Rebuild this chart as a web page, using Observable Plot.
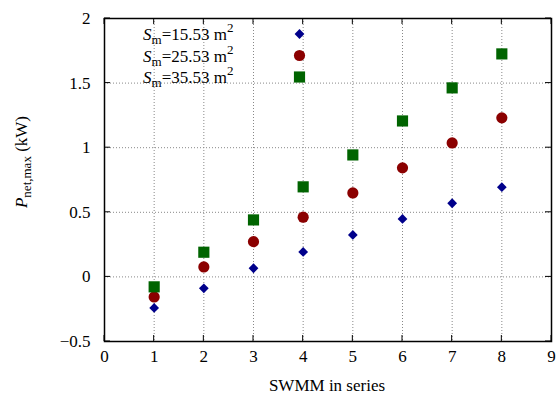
<!DOCTYPE html>
<html><head><meta charset="utf-8">
<script src="https://cdn.jsdelivr.net/npm/d3@7"></script>
<script src="https://cdn.jsdelivr.net/npm/@observablehq/plot@0.6"></script>
<style>body{margin:0;background:#fff;} svg{display:block;}</style>
</head><body><div id="chart"></div>
<script>
const swmm = [1, 2, 3, 4, 5, 6, 7, 8];
const seriesNames = ["15.53", "25.53", "35.53"];
const s1 = [-0.24, -0.088, 0.067, 0.193, 0.325, 0.449, 0.570, 0.694];
const s2 = [-0.155, 0.077, 0.273, 0.462, 0.650, 0.844, 1.037, 1.231];
const s3 = [-0.077, 0.191, 0.441, 0.697, 0.944, 1.207, 1.463, 1.726];
const xTicks = [0, 1, 2, 3, 4, 5, 6, 7, 8, 9];
const yTicks = [-0.5, 0, 0.5, 1, 1.5, 2];
const colors = ["#00008b", "#8b0000", "#006400"];
const symbols = ["diamond2", "circle", "square"];
const sizes = [4.4, 5.6, 6.3];

const rows = [];
[s1, s2, s3].forEach((s, k) => s.forEach((v, i) => rows.push({x: swmm[i], y: v, k})));

const font = "Liberation Serif";
const chart = Plot.plot({
  width: 558, height: 408,
  marginLeft: 104, marginRight: 7, marginTop: 18, marginBottom: 67,
  style: "font-family: 'Liberation Serif', serif; font-size: 17px; background: #fff; color: #000;",
  x: {domain: [0, 9], ticks: xTicks},
  y: {domain: [-0.5, 2], ticks: yTicks},
  marks: [
    Plot.gridX(xTicks, {stroke: "#888", strokeOpacity: 1, strokeDasharray: "1,2", strokeWidth: 1}),
    Plot.gridY(yTicks, {stroke: "#888", strokeOpacity: 1, strokeDasharray: "1,2", strokeWidth: 1}),
    Plot.axisX({ticks: xTicks, tickSize: 0, tickPadding: 8, label: null, fontSize: 17, fontFamily: font, tickFormat: d3.format("d")}),
    Plot.axisY({ticks: yTicks, tickSize: 0, tickPadding: 14, label: null, fontSize: 17, fontFamily: font, tickFormat: d => d3.format("")(d).replace("-", "\u2212")}),
    ...[0, 1, 2].map(k => Plot.dot(rows.filter(d => d.k === k), {
      x: "x", y: "y", symbol: () => symbols[k], r: sizes[k], fill: colors[k], stroke: "none"
    })),
    ...[0, 1, 2].map(k => Plot.dot([seriesNames[k]], {
      frameAnchor: "top-left", dx: 195, dy: 15.5 + 21.5 * k,
      symbol: () => symbols[k], r: sizes[k], fill: colors[k], stroke: "none"
    })),
    Plot.frame({stroke: "#000", strokeWidth: 1.5})
  ]
});
document.getElementById("chart").append(chart);

const svg = d3.select(chart);
const xs = chart.scale("x"), ys = chart.scale("y");
const X = v => xs.apply(v), Y = v => ys.apply(v);
const g = svg.append("g").attr("stroke", "#000").attr("stroke-width", 1);
xTicks.forEach(t => {
  g.append("line").attr("x1", X(t)).attr("x2", X(t)).attr("y1", Y(-0.5)).attr("y2", Y(-0.5) - 6);
  g.append("line").attr("x1", X(t)).attr("x2", X(t)).attr("y1", Y(2)).attr("y2", Y(2) + 6);
});
yTicks.forEach(t => {
  g.append("line").attr("y1", Y(t)).attr("y2", Y(t)).attr("x1", X(0)).attr("x2", X(0) + 6);
  g.append("line").attr("y1", Y(t)).attr("y2", Y(t)).attr("x1", X(9)).attr("x2", X(9) - 6);
});

// x label
svg.append("text").attr("x", 327).attr("y", 391).attr("text-anchor", "middle")
  .attr("font-family", font).attr("font-size", 17).text("SWMM in series");

// y label
const yl = svg.append("text").attr("transform", "translate(27,162) rotate(-90)")
  .attr("text-anchor", "middle").attr("font-family", font).attr("font-size", 17);
yl.append("tspan").attr("font-style", "italic").text("P");
yl.append("tspan").attr("font-size", 13).attr("dy", 4).text("net,max");
yl.append("tspan").attr("dy", -4).text(" (kW)");

// legend text
seriesNames.forEach((n, i) => {
  const cy = 34 + i * 21.5;
  const t = svg.append("text").attr("x", 143).attr("y", cy + 6).attr("text-anchor", "start")
    .attr("font-family", font).attr("font-size", 17);
  t.append("tspan").attr("font-style", "italic").text("S");
  t.append("tspan").attr("font-size", 13).attr("dy", 4).text("m");
  t.append("tspan").attr("dy", -4).text("=" + n + " m");
  t.append("tspan").attr("font-size", 13).attr("dy", -8).text("2");
});
</script></body></html>
